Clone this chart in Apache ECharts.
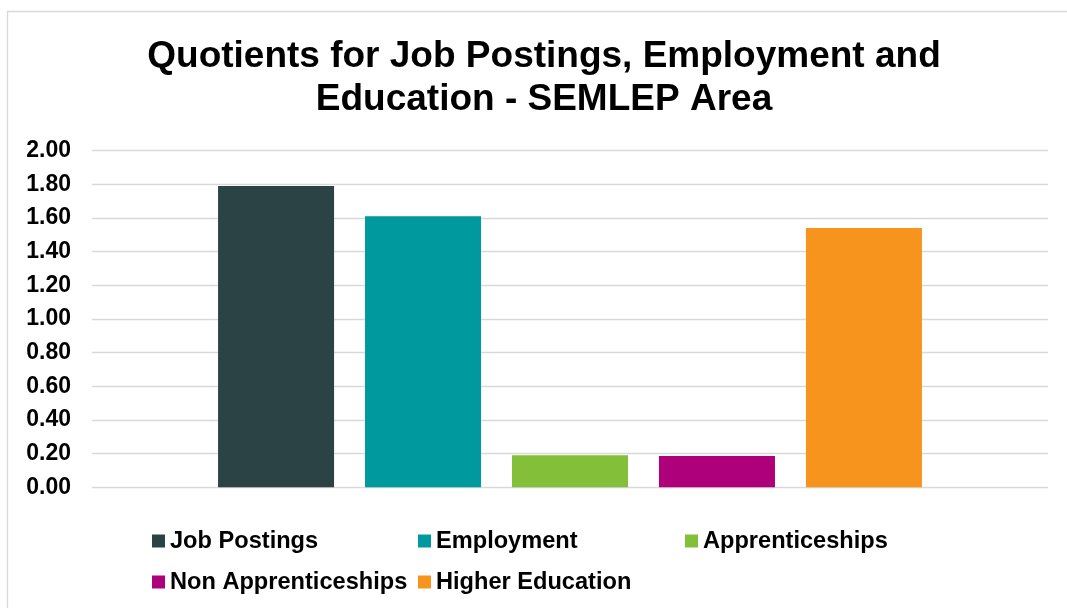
<!DOCTYPE html>
<html>
<head>
<meta charset="utf-8">
<title>Quotients for Job Postings, Employment and Education - SEMLEP Area</title>
<script src="https://cdn.jsdelivr.net/npm/echarts@6/dist/echarts.min.js"></script>
<style>
  html, body { margin: 0; padding: 0; background: #ffffff; }
  #chart { width: 1067px; height: 608px; }
</style>
</head>
<body>
<div id="chart"></div>
<script>
// Location quotients for the SEMLEP area
const seriesNames = ['Job Postings', 'Employment', 'Apprenticeships', 'Non Apprenticeships', 'Higher Education'];
const jobPostings = [1.79];
const employment = [1.61];
const apprenticeships = [0.19];
const nonApprenticeships = [0.186];
const higherEducation = [1.54];
const yTicks = [0, 0.2, 0.4, 0.6, 0.8, 1.0, 1.2, 1.4, 1.6, 1.8, 2.0];

const seriesValues = [jobPostings, employment, apprenticeships, nonApprenticeships, higherEducation];
const colors = ['#2c4346', '#00999d', '#84bf3a', '#ae007a', '#f7941e'];
const FONT = '"Liberation Sans", Arial, sans-serif';

// legend laid out in fixed columns, two rows
const legendSlots = [
  { left: 152, top: 529 },
  { left: 418, top: 529 },
  { left: 685, top: 529 },
  { left: 152, top: 570 },
  { left: 418, top: 570 }
];

const chart = echarts.init(document.getElementById('chart'), null, { renderer: 'canvas' });

chart.setOption({
  animation: false,
  backgroundColor: '#ffffff',
  color: colors,
  graphic: [
    {
      type: 'rect',
      shape: { x: 7.5, y: 11.5, width: 1100, height: 700 },
      style: { fill: 'none', stroke: '#d9d9d9', lineWidth: 1.3 },
      silent: true
    },
    {
      type: 'text',
      x: 544,
      y: 35,
      style: {
        text: 'Quotients for Job Postings, Employment and\nEducation - SEMLEP Area',
        font: 'bold 37px ' + FONT,
        fill: '#000000',
        align: 'center',
        verticalAlign: 'top',
        lineHeight: 43
      },
      silent: true
    }
  ],
  grid: { left: 92, right: 19, top: 150.7, bottom: 120.7, containLabel: false },
  xAxis: {
    type: 'category',
    data: [''],
    axisLine: { show: false },
    axisTick: { show: false },
    axisLabel: { show: false },
    splitLine: { show: false }
  },
  yAxis: {
    type: 'value',
    min: yTicks[0],
    max: yTicks[yTicks.length - 1],
    interval: 0.2,
    axisLine: { show: false },
    axisTick: { show: false },
    axisLabel: {
      margin: 21,
      color: '#000000',
      fontFamily: FONT,
      fontWeight: 'bold',
      fontSize: 23,
      formatter: v => v.toFixed(2)
    },
    splitLine: { lineStyle: { color: '#d9d9d9', width: 1.3 } }
  },
  legend: seriesNames.map((name, i) => ({
    data: [name],
    left: legendSlots[i].left,
    top: legendSlots[i].top,
    padding: 0,
    itemWidth: 13,
    itemHeight: 13,
    icon: 'rect',
    selectedMode: false,
    textStyle: {
      color: '#000000',
      fontFamily: FONT,
      fontWeight: 'bold',
      fontSize: 23.6,
      padding: [0, 0, 0, 0]
    }
  })),
  series: seriesNames.map((name, i) => ({
    name: name,
    type: 'bar',
    data: seriesValues[i],
    barWidth: 116,
    barGap: '26.7%',
    itemStyle: { color: colors[i] }
  }))
});
</script>
</body>
</html>
